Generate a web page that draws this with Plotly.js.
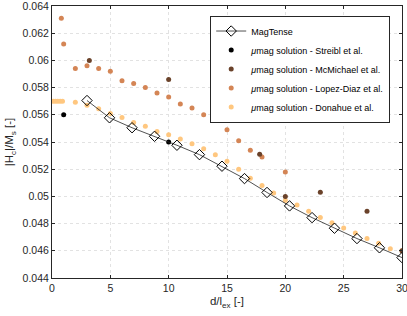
<!DOCTYPE html>
<html>
<head>
<meta charset="utf-8">
<script src="https://cdn.plot.ly/plotly-2.35.2.min.js"></script>
<style>html,body{margin:0;padding:0;background:#fff;}#chart{width:407px;height:316px;}</style>
</head>
<body>
<div id="chart"></div>
<script>
// MagTense
const magX = [3, 4.93, 6.86, 8.79, 10.71, 12.64, 14.57, 16.5, 18.43, 20.36, 22.29, 24.21, 26.14, 28.07, 30];
const magY = [0.05705, 0.05578, 0.05505, 0.05442, 0.05376, 0.05307, 0.05222, 0.05131, 0.05029, 0.0493, 0.04844, 0.04766, 0.0469, 0.04622, 0.0455];
// Streibl et al.
const strX = [1, 10];
const strY = [0.0560, 0.0540];
// McMichael et al.
const mcmX = [3.2, 10, 14, 17.8, 20, 23, 27, 30];
const mcmY = [0.0600, 0.0586, 0.0558, 0.0531, 0.0500, 0.0503, 0.0489, 0.0460];
// Lopez-Diaz et al.
const lopX = [0.8, 1, 2, 3, 4, 5, 6, 7, 8, 9, 10, 11, 12, 13, 14, 15, 16, 17, 18, 20];
const lopY = [0.0631, 0.0612, 0.0594, 0.0596, 0.0594, 0.0592, 0.0585, 0.0583, 0.0580, 0.0576, 0.0573, 0.0568, 0.0565, 0.0560, 0.0556, 0.0549, 0.0541, 0.0534, 0.0529, 0.0518];
// Donahue et al.
const donX = [0.1, 0.3, 0.5, 0.7, 0.9, 2, 3, 4, 5, 6, 7, 8, 9, 10, 11, 12, 13, 14, 15, 16, 17, 18, 19, 20, 21, 22, 23, 24, 25, 26, 27, 28, 29, 30];
const donY = [0.0570, 0.0570, 0.0570, 0.0570, 0.0570, 0.05693, 0.0567, 0.05644, 0.0561, 0.0558, 0.05544, 0.05515, 0.05478, 0.05453, 0.05422, 0.05388, 0.05351, 0.05307, 0.05259, 0.0520, 0.05134, 0.0508, 0.05025, 0.0497, 0.04936, 0.0489, 0.04845, 0.04806, 0.04767, 0.0473, 0.04691, 0.04655, 0.04615, 0.0460];

const names = ['MagTense', '<i>μ</i>mag solution - Streibl et al.', '<i>μ</i>mag solution - McMichael et al.', '<i>μ</i>mag solution - Lopez-Diaz et al.', '<i>μ</i>mag solution - Donahue et al.'];
const xTicks = [0, 5, 10, 15, 20, 25, 30];
const yTicks = [0.044, 0.046, 0.048, 0.05, 0.052, 0.054, 0.056, 0.058, 0.06, 0.062, 0.064];
const yTickText = ['0.044', '0.046', '0.048', '0.05', '0.052', '0.054', '0.056', '0.058', '0.06', '0.062', '0.064'];

const dot = (x, y, name, color, rank) => ({
  x: x, y: y, name: name, type: 'scatter', mode: 'markers',
  marker: {size: 5, color: color}, legendrank: rank
});

const traces = [
  dot(donX, donY, names[4], '#ffc77f', 5),
  dot(lopX, lopY, names[3], '#d48555', 4),
  dot(mcmX, mcmY, names[2], '#6a422a', 3),
  dot(strX, strY, names[1], '#000000', 2),
  {x: magX, y: magY, name: names[0], type: 'scatter', mode: 'lines+markers',
   line: {color: '#262626', width: 0.8},
   marker: {symbol: 'diamond-open', size: 8, color: '#000000', line: {width: 1}}, legendrank: 1}
];

const axisCommon = {
  showline: true, linecolor: '#262626', linewidth: 1, mirror: 'ticks',
  ticks: 'inside', ticklen: 3, tickcolor: '#262626', tickwidth: 1,
  showgrid: true, gridcolor: '#e2e2e2', griddash: 'dot', gridwidth: 1,
  zeroline: false, ticklabeloverflow: 'allow',
  tickfont: {family: 'Liberation Sans, Arial, sans-serif', size: 10.5, color: '#262626'}
};

const layout = {
  width: 407, height: 316,
  margin: {l: 52, r: 5, t: 6, b: 38},
  paper_bgcolor: '#ffffff', plot_bgcolor: '#ffffff',
  showlegend: true,
  xaxis: Object.assign({}, axisCommon, {
    range: [0, 30], tickvals: xTicks, ticktext: xTicks.map(String),
    title: {text: 'd/l<sub>ex</sub> [-]', standoff: 4,
            font: {family: 'Liberation Sans, Arial, sans-serif', size: 11.5, color: '#262626'}}
  }),
  yaxis: Object.assign({}, axisCommon, {
    range: [0.044, 0.064], tickvals: yTicks, ticktext: yTickText,
    title: {text: '|H<sub>c</sub>|/M<sub>s</sub> [-]', standoff: 6,
            font: {family: 'Liberation Sans, Arial, sans-serif', size: 11.5, color: '#262626'}}
  }),
  legend: {
    x: 0.452, y: 0.965, xanchor: 'left', yanchor: 'top',
    bgcolor: '#ffffff', bordercolor: '#262626', borderwidth: 1,
    font: {family: 'Liberation Sans, Arial, sans-serif', size: 9, color: '#000000'},
    tracegroupgap: 0, itemwidth: 30
  }
};

Plotly.newPlot('chart', traces, layout, {displayModeBar: false, staticPlot: true});
</script>
</body>
</html>
